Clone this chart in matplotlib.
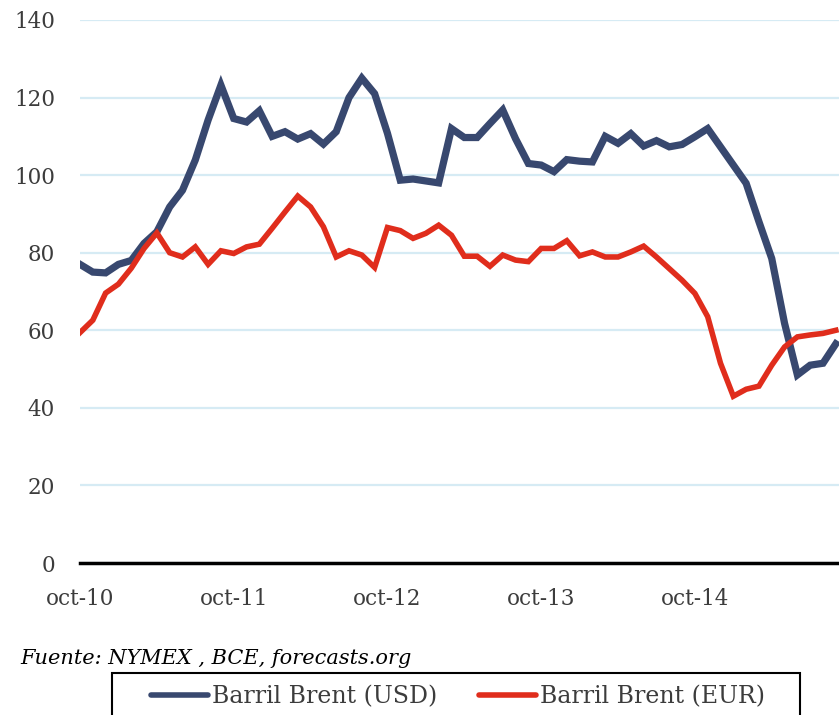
import matplotlib
matplotlib.use("Agg")
import matplotlib.pyplot as plt
from matplotlib.patches import Rectangle
import numpy as np

# --- datos mensuales, oct-10 a sep-15 ---
brent_usd = [77, 75, 74.8, 77, 78, 82.4, 85.4, 91.8, 96.1, 103.9,
             114.2, 123.2, 114.6, 113.7, 116.6, 110, 111.2, 109.3, 110.7, 108,
             111.2, 120, 125, 121, 110.8, 98.7, 99, 98.5, 98, 112,
             109.7, 109.7, 113.3, 116.8, 109.4, 103, 102.6, 100.9, 104, 103.6,
             103.4, 110, 108.2, 110.7, 107.5, 108.9, 107.3, 107.9, 109.9, 112,
             107.3, 102.6, 97.9, 88, 78.5, 61.8, 48.5, 51, 51.5, 56.5]

brent_eur = [59.4, 62.6, 69.6, 71.9, 76, 81.1, 85.1, 80, 78.9, 81.5,
             77, 80.5, 79.8, 81.5, 82.2, 86.3, 90.5, 94.6, 91.8, 86.7,
             78.9, 80.5, 79.4, 76.2, 86.5, 85.7, 83.7, 85, 87.1, 84.5,
             79.1, 79.1, 76.5, 79.4, 78.1, 77.7, 81.1, 81.1, 83.1, 79.2,
             80.2, 78.9, 78.9, 80.2, 81.7, 78.9, 75.9, 72.9, 69.5, 63.5,
             51.5, 43, 44.8, 45.6, 51, 55.7, 58.3, 58.8, 59.2, 60]

etiquetas_x = ['oct-10', 'oct-11', 'oct-12', 'oct-13', 'oct-14']
ticks_y = [0, 20, 40, 60, 80, 100, 120, 140]

AZUL = '#38486f'
ROJO = '#e02d1c'
GRIS = '#3c3c3c'

plt.rcParams['font.family'] = ['DejaVu Serif']

fig = plt.figure(figsize=(8.39, 7.15), dpi=100)
ax = fig.add_axes([80 / 839, 1 - 563 / 715, 1 - 80 / 839, (563 - 20) / 715])

meses = np.arange(len(brent_usd))
ax.plot(meses, brent_usd, color=AZUL, lw=5.2, solid_joinstyle='miter',
        label='Barril Brent (USD)', zorder=3)
ax.plot(meses, brent_eur, color=ROJO, lw=4, solid_joinstyle='miter',
        label='Barril Brent (EUR)', zorder=3)

ax.set_xlim(0, 59.25)
ax.set_ylim(0, 140)
ax.set_yticks(ticks_y)
ax.set_xticks([12 * i for i in range(len(etiquetas_x))])
ax.set_xticklabels(etiquetas_x)

ax.yaxis.grid(True, color='#d6ebf4', lw=1.6)
ax.set_axisbelow(True)
for lado in ['top', 'right', 'left']:
    ax.spines[lado].set_visible(False)
ax.spines['bottom'].set_linewidth(2.5)
ax.spines['bottom'].set_color('black')
ax.spines['bottom'].set_zorder(4)

ax.tick_params(axis='both', length=0, labelsize=15.5, labelcolor=GRIS)
ax.tick_params(axis='y', pad=18)
ax.tick_params(axis='x', pad=18)

fig.text(20 / 839, 1 - 658 / 715, 'Fuente: NYMEX , BCE, forecasts.org',
         style='italic', fontsize=15, va='center', ha='left', color='black')

# caja de la leyenda (se corta en el borde inferior)
fig.add_artist(Rectangle((112 / 839, -0.05), (800 - 112) / 839, 0.05 + 1 - 673 / 715,
                         transform=fig.transFigure, fill=False, ec='black', lw=1.5,
                         clip_on=False))
leg = fig.legend(loc='center', bbox_to_anchor=(458 / 839, 1 - 697 / 715), ncol=2,
                 frameon=False, fontsize=17, handlelength=2.4, handletextpad=0.15,
                 columnspacing=1.8, labelcolor=GRIS)
for h in leg.get_lines():
    h.set_linewidth(4)
    h.set_solid_capstyle('round')

fig.savefig('out.png', dpi=100)
